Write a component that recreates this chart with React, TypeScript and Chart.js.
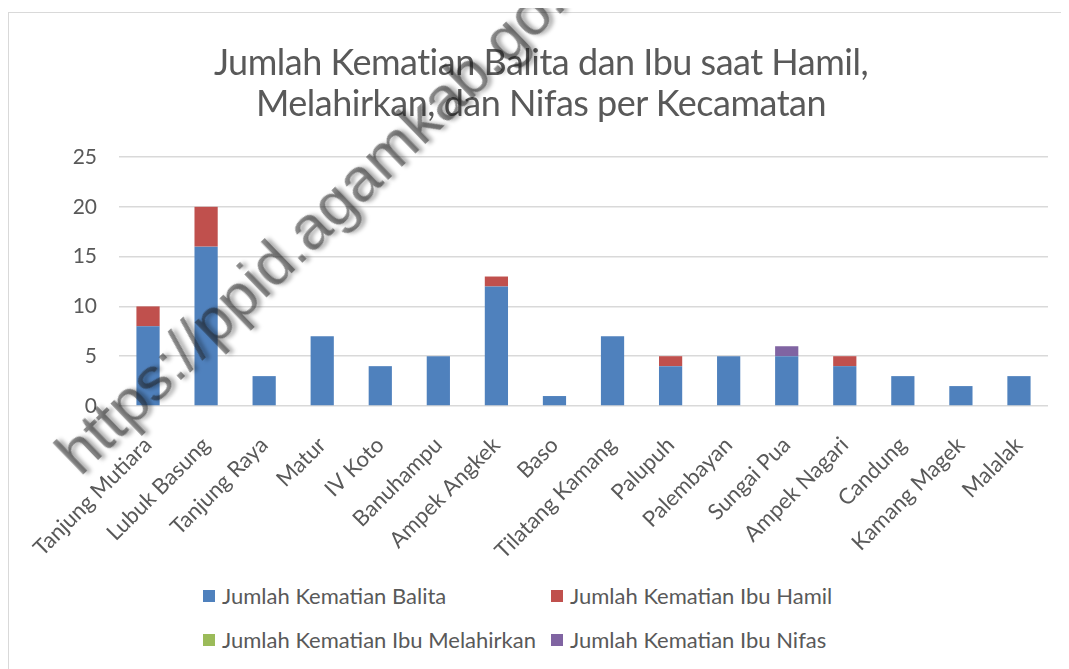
import React, { useEffect, useRef } from "react";
import { Chart, registerables } from "chart.js";

Chart.register(...registerables);

const categories = [
  "Tanjung Mutiara", "Lubuk Basung", "Tanjung Raya", "Matur", "IV Koto", "Banuhampu",
  "Ampek Angkek", "Baso", "Tilatang Kamang", "Palupuh", "Palembayan", "Sungai Pua",
  "Ampek Nagari", "Candung", "Kamang Magek", "Malalak",
];
const balita = [8, 16, 3, 7, 4, 5, 12, 1, 7, 4, 5, 5, 4, 3, 2, 3];
const ibuHamil = [2, 4, 0, 0, 0, 0, 1, 0, 0, 1, 0, 0, 1, 0, 0, 0];
const ibuMelahirkan = [0, 0, 0, 0, 0, 0, 0, 0, 0, 0, 0, 0, 0, 0, 0, 0];
const ibuNifas = [0, 0, 0, 0, 0, 0, 0, 0, 0, 0, 0, 1, 0, 0, 0, 0];
const seriesNames = [
  "Jumlah Kematian Balita",
  "Jumlah Kematian Ibu Hamil",
  "Jumlah Kematian Ibu Melahirkan",
  "Jumlah Kematian Ibu Nifas",
];
const seriesColors = ["#4F81BD", "#C0504D", "#9BBB59", "#8064A2"];
const titleLines = [
  "Jumlah Kematian Balita dan Ibu saat Hamil,",
  "Melahirkan, dan Nifas per Kecamatan",
];
const yMax = 25;
const yStep = 5;

const FONT = "Lato, 'Open Sans', sans-serif";
const TEXT = "#595959";

export default function App() {
  const ref = useRef<HTMLCanvasElement | null>(null);

  useEffect(() => {
    if (!ref.current) return;
    const values = [balita, ibuHamil, ibuMelahirkan, ibuNifas];
    const chart = new Chart(ref.current, {
      type: "bar",
      data: {
        labels: categories,
        datasets: values.map((v, i) => ({
          label: seriesNames[i],
          data: v,
          backgroundColor: seriesColors[i],
          borderWidth: 0,
          barPercentage: 0.4,
          categoryPercentage: 1,
        })),
      },
      options: {
        animation: false,
        responsive: false,
        maintainAspectRatio: false,
        layout: { padding: { left: 0, right: 21, top: 144, bottom: 0 } },
        plugins: {
          legend: { display: false },
          tooltip: { enabled: false },
          title: { display: false },
        },
        scales: {
          x: {
            stacked: true,
            grid: { display: false },
            border: { display: false },
            afterFit: (s: any) => {
              s.height = 160;
            },
            ticks: {
              color: TEXT,
              font: { family: FONT, size: 22 },
              maxRotation: 45,
              minRotation: 45,
              autoSkip: false,
              padding: 18,
            },
          },
          y: {
            stacked: true,
            min: 0,
            max: yMax,
            border: { display: false },
            afterFit: (s: any) => {
              s.width = 110;
            },
            grid: { color: "#d9d9d9", lineWidth: 1.5, drawTicks: false },
            ticks: {
              stepSize: yStep,
              color: TEXT,
              font: { family: FONT, size: 21 },
              padding: 22,
            },
          },
        },
      },
    });
    return () => chart.destroy();
  }, []);

  const legendItem = (i: number, left: number, top: number) => (
    <div
      key={i}
      style={{
        position: "absolute",
        left,
        top,
        display: "flex",
        alignItems: "center",
        whiteSpace: "nowrap",
        fontFamily: FONT,
        fontSize: 22,
        color: TEXT,
        lineHeight: "24px",
      }}
    >
      <span
        style={{
          display: "inline-block",
          width: 12,
          height: 12,
          background: seriesColors[i],
          marginRight: 7,
        }}
      />
      {seriesNames[i]}
    </div>
  );

  return (
    <div style={{ position: "relative", width: 1061, height: 661, overflow: "hidden", background: "#fff" }}>
      <div
        style={{
          position: "absolute",
          left: 0,
          top: 4,
          width: 1200,
          height: 800,
          borderTop: "1.5px solid #d9d9d9",
          borderLeft: "1.5px solid #d9d9d9",
        }}
      />
      <canvas
        ref={ref}
        width={1060}
        height={553}
        style={{ position: "absolute", left: 1, top: 5, width: 1060, height: 553 }}
      />
      <div
        style={{
          position: "absolute",
          left: 0,
          top: 33,
          width: 1066,
          textAlign: "center",
          fontFamily: FONT,
          fontSize: 36,
          letterSpacing: "-0.5px",
          lineHeight: "41px",
          color: TEXT,
          whiteSpace: "nowrap",
        }}
      >
        {titleLines.map((t, i) => (
          <div key={i}>{t}</div>
        ))}
      </div>
      {legendItem(0, 195, 576)}
      {legendItem(1, 543, 576)}
      {legendItem(2, 195, 620)}
      {legendItem(3, 543, 620)}
      <div
        style={{
          position: "absolute",
          left: 36,
          top: 432,
          transform: "rotate(-44deg)",
          transformOrigin: "0 0",
          whiteSpace: "nowrap",
          fontFamily: "'Liberation Sans', Arial, sans-serif",
          fontSize: 62,
          lineHeight: 1,
          color: "rgba(30,30,30,0.5)",
          textShadow: "3px 3px 4px rgba(0,0,0,0.35)",
          pointerEvents: "none",
        }}
      >
        https://ppid.agamkab.go.id
      </div>
    </div>
  );
}
